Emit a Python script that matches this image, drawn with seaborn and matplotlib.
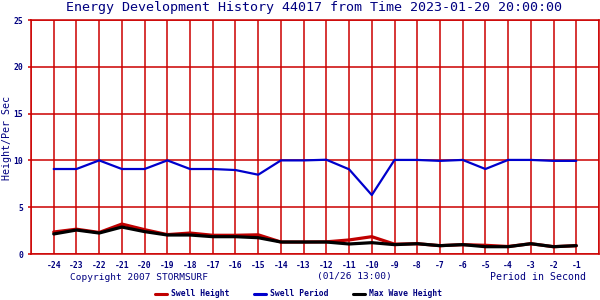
import numpy as np
import pandas as pd
import matplotlib
matplotlib.use("Agg")
import matplotlib.pyplot as plt
import seaborn as sns

hours = [-24, -23, -22, -21, -20, -19, -18, -17, -16, -15, -14, -13,
         -12, -11, -10, -9, -8, -7, -6, -5, -4, -3, -2, -1]
swell_height = [2.35, 2.65, 2.3, 3.2, 2.6, 2.07, 2.24, 2.0, 2.0, 2.05, 1.28, 1.28,
                1.3, 1.5, 1.85, 1.05, 1.1, 0.89, 1.0, 0.93, 0.8, 1.1, 0.78, 0.89]
swell_period = [9.08, 9.08, 10.0, 9.08, 9.08, 10.0, 9.08, 9.08, 8.97, 8.47, 10.0, 10.0,
                10.07, 9.05, 6.3, 10.05, 10.05, 9.95, 10.05, 9.08, 10.05, 10.05, 9.95, 9.95]
max_wave = [2.14, 2.56, 2.24, 2.88, 2.39, 2.03, 2.03, 1.85, 1.85, 1.74, 1.28, 1.28,
            1.28, 1.07, 1.21, 1.0, 1.1, 0.89, 1.0, 0.78, 0.78, 1.1, 0.78, 0.89]
x_tick_labels = [str(h) for h in hours]
y_ticks = [0, 5, 10, 15, 20, 25]

title = "Energy Development History 44017 from Time 2023-01-20 20:00:00"
series_names = ["Swell Height", "Swell Period", "Max Wave Height"]

df = pd.DataFrame({
    "hour": hours * 3,
    "value": swell_height + swell_period + max_wave,
    "series": [series_names[0]] * len(hours) + [series_names[1]] * len(hours) + [series_names[2]] * len(hours),
})

sns.set_style("white")
plt.rcParams['font.family'] = ['DejaVu Sans Mono', 'DejaVu Sans']

navy = "#000080"
grid_red = "#cc0000"
colors = {"Swell Height": "#c00000", "Swell Period": "#0000cc", "Max Wave Height": "#000000"}
widths = {"Swell Height": 2.3, "Swell Period": 1.6, "Max Wave Height": 2.3}

fig = plt.figure(figsize=(6, 3), dpi=100)
ax = fig.add_axes([31/600, 46/300, 568/600, 234/300])

# vertical grid at every hour boundary (drawn beneath the data)
for gx in range(-25, 1):
    ax.axvline(gx, color=grid_red, linewidth=1.1, zorder=0.5)

for name in ["Swell Period", "Swell Height", "Max Wave Height"]:
    sns.lineplot(data=df[df["series"] == name], x="hour", y="value", ax=ax,
                 color=colors[name], linewidth=widths[name], legend=False, zorder=2)

ax.set_xlim(-25, 0)
ax.set_ylim(0, 25)
ax.set_xticks(hours)
ax.set_xticklabels(x_tick_labels, fontsize=5.8, color=navy, fontweight="bold")
ax.set_yticks(y_ticks)
ax.set_yticklabels([str(v) for v in y_ticks], fontsize=5.8, color=navy, fontweight="bold")
ax.tick_params(axis="x", which="both", length=0, pad=5)
ax.tick_params(axis="y", which="both", length=2.5, width=1.1, color=grid_red, pad=3, left=True)
ax.grid(True, which="major", axis="y", color=grid_red, linewidth=1.1, zorder=0.5)
ax.grid(False, which="major", axis="x")
ax.set_axisbelow(True)
for s in ax.spines.values():
    s.set_color(grid_red)
    s.set_linewidth(1.1)
ax.set_xlabel("")
ax.set_ylabel("")

fig.text(7/600, 1 - 138/300, "Height/Per Sec", rotation=90, ha="center", va="center",
         fontsize=7.2, color=navy)
fig.text(314/600, 1 - 8/300, title, ha="center", va="center", fontsize=9.6, color=navy)
fig.text(70/600, 1 - 277/300, "Copyright 2007 STORMSURF", ha="left", va="center", fontsize=6.8, color=navy)
fig.text(354/600, 1 - 277/300, "(01/26 13:00)", ha="center", va="center", fontsize=6.8, color=navy)
fig.text(586/600, 1 - 277/300, "Period in Second", ha="right", va="center", fontsize=7.1, color=navy)

legend_items = [(155, 171, "Swell Height"), (254, 270, "Swell Period"), (353, 369, "Max Wave Height")]
for (lx, tx, name) in legend_items:
    fig.add_artist(plt.Line2D([lx/600, (lx+12)/600], [1 - 294/300, 1 - 294/300],
                              color=colors[name], linewidth=2.2, transform=fig.transFigure))
    fig.text(tx/600, 1 - 294/300, name, ha="left", va="center", fontsize=5.8,
             color=navy, fontweight="bold")

fig.savefig("out.png", dpi=100)
